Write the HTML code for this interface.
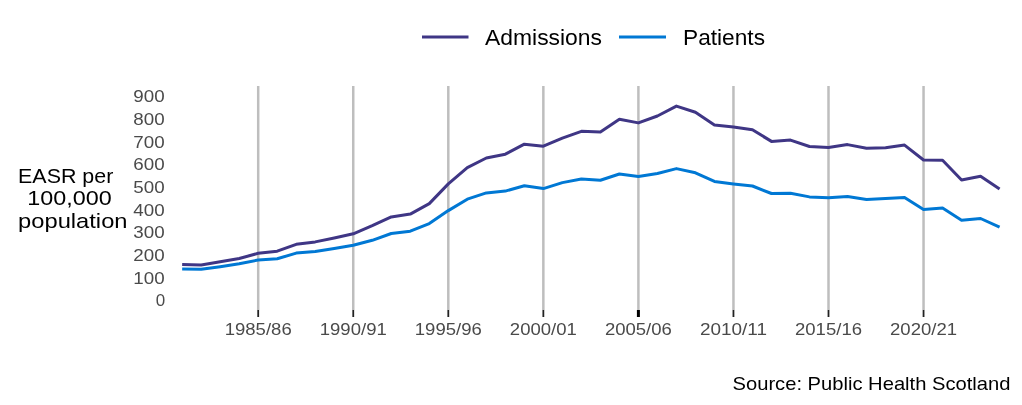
<!DOCTYPE html>
<html><head><meta charset="utf-8"><style>
html,body{margin:0;padding:0;background:#fff;}
svg{display:block;will-change:transform;}
text{font-family:"Liberation Sans",sans-serif;}
.tk{font-size:17px;fill:#4a4a4a;}
.lg{font-size:22px;fill:#000;}
.yl{font-size:21px;fill:#000;}
.src{font-size:18.5px;fill:#000;}
</style></head><body>
<svg width="1022" height="405" viewBox="0 0 1022 405">
<rect width="1022" height="405" fill="#fff"/>
<line x1="258.20" y1="86" x2="258.20" y2="310" stroke="#bebebe" stroke-width="2.5"/>
<line x1="353.25" y1="86" x2="353.25" y2="310" stroke="#bebebe" stroke-width="2.5"/>
<line x1="448.30" y1="86" x2="448.30" y2="310" stroke="#bebebe" stroke-width="2.5"/>
<line x1="543.35" y1="86" x2="543.35" y2="310" stroke="#bebebe" stroke-width="2.5"/>
<line x1="638.40" y1="86" x2="638.40" y2="310" stroke="#bebebe" stroke-width="2.5"/>
<line x1="733.45" y1="86" x2="733.45" y2="310" stroke="#bebebe" stroke-width="2.5"/>
<line x1="828.50" y1="86" x2="828.50" y2="310" stroke="#bebebe" stroke-width="2.5"/>
<line x1="923.55" y1="86" x2="923.55" y2="310" stroke="#bebebe" stroke-width="2.5"/>
<line x1="258.20" y1="310" x2="258.20" y2="317" stroke="#222" stroke-width="1.8"/>
<line x1="353.25" y1="310" x2="353.25" y2="317" stroke="#222" stroke-width="1.8"/>
<line x1="448.30" y1="310" x2="448.30" y2="317" stroke="#222" stroke-width="1.8"/>
<line x1="543.35" y1="310" x2="543.35" y2="317" stroke="#222" stroke-width="1.8"/>
<line x1="638.40" y1="310" x2="638.40" y2="317" stroke="#000" stroke-width="3"/>
<line x1="733.45" y1="310" x2="733.45" y2="317" stroke="#222" stroke-width="1.8"/>
<line x1="828.50" y1="310" x2="828.50" y2="317" stroke="#222" stroke-width="1.8"/>
<line x1="923.55" y1="310" x2="923.55" y2="317" stroke="#222" stroke-width="1.8"/>

<polyline points="182.16,268.90 201.17,269.30 220.18,266.70 239.19,263.70 258.20,260.00 277.21,258.80 296.22,253.10 315.23,251.50 334.24,248.40 353.25,245.20 372.26,240.30 391.27,233.50 410.28,231.20 429.29,223.60 448.30,210.60 467.31,199.20 486.32,192.90 505.33,191.10 524.34,185.70 543.35,188.60 562.36,182.60 581.37,179.00 600.38,180.20 619.39,174.00 638.40,176.50 657.41,173.50 676.42,168.60 695.43,172.80 714.44,181.40 733.45,183.90 752.46,186.00 771.47,193.50 790.48,193.20 809.49,196.90 828.50,197.70 847.51,196.40 866.52,199.40 885.53,198.40 904.54,197.40 923.55,209.40 942.56,208.10 961.57,220.20 980.58,218.50 999.59,227.10" fill="none" stroke="#0078d4" stroke-width="3" stroke-linejoin="round" stroke-linecap="butt"/>
<polyline points="182.16,264.40 201.17,264.90 220.18,261.80 239.19,258.50 258.20,253.30 277.21,251.20 296.22,244.30 315.23,241.90 334.24,238.00 353.25,233.80 372.26,225.70 391.27,216.90 410.28,214.10 429.29,203.60 448.30,183.90 467.31,167.70 486.32,158.00 505.33,154.20 524.34,144.20 543.35,146.20 562.36,138.20 581.37,131.30 600.38,132.00 619.39,119.20 638.40,122.90 657.41,116.00 676.42,106.10 695.43,112.30 714.44,125.10 733.45,127.10 752.46,129.80 771.47,141.40 790.48,140.10 809.49,146.50 828.50,147.50 847.51,144.60 866.52,148.30 885.53,147.80 904.54,145.10 923.55,160.00 942.56,160.20 961.57,180.00 980.58,176.30 999.59,188.90" fill="none" stroke="#3f3685" stroke-width="3" stroke-linejoin="round" stroke-linecap="butt"/>
<text x="258.20" y="335.3" text-anchor="middle" textLength="67" lengthAdjust="spacingAndGlyphs" class="tk">1985/86</text>
<text x="353.25" y="335.3" text-anchor="middle" textLength="67" lengthAdjust="spacingAndGlyphs" class="tk">1990/91</text>
<text x="448.30" y="335.3" text-anchor="middle" textLength="67" lengthAdjust="spacingAndGlyphs" class="tk">1995/96</text>
<text x="543.35" y="335.3" text-anchor="middle" textLength="67" lengthAdjust="spacingAndGlyphs" class="tk">2000/01</text>
<text x="638.40" y="335.3" text-anchor="middle" textLength="67" lengthAdjust="spacingAndGlyphs" class="tk">2005/06</text>
<text x="733.45" y="335.3" text-anchor="middle" textLength="67" lengthAdjust="spacingAndGlyphs" class="tk">2010/11</text>
<text x="828.50" y="335.3" text-anchor="middle" textLength="67" lengthAdjust="spacingAndGlyphs" class="tk">2015/16</text>
<text x="923.55" y="335.3" text-anchor="middle" textLength="67" lengthAdjust="spacingAndGlyphs" class="tk">2020/21</text>
<text x="155.75" y="306.30" textLength="9.45" lengthAdjust="spacingAndGlyphs" class="tk">0</text>
<text x="133.30" y="283.62" textLength="31.3" lengthAdjust="spacingAndGlyphs" class="tk">100</text>
<text x="133.30" y="260.94" textLength="31.3" lengthAdjust="spacingAndGlyphs" class="tk">200</text>
<text x="133.30" y="238.26" textLength="31.3" lengthAdjust="spacingAndGlyphs" class="tk">300</text>
<text x="133.30" y="215.58" textLength="31.3" lengthAdjust="spacingAndGlyphs" class="tk">400</text>
<text x="133.30" y="192.90" textLength="31.3" lengthAdjust="spacingAndGlyphs" class="tk">500</text>
<text x="133.30" y="170.22" textLength="31.3" lengthAdjust="spacingAndGlyphs" class="tk">600</text>
<text x="133.30" y="147.54" textLength="31.3" lengthAdjust="spacingAndGlyphs" class="tk">700</text>
<text x="133.30" y="124.86" textLength="31.3" lengthAdjust="spacingAndGlyphs" class="tk">800</text>
<text x="133.30" y="102.18" textLength="31.3" lengthAdjust="spacingAndGlyphs" class="tk">900</text>

<line x1="422" y1="37" x2="468.5" y2="37" stroke="#3f3685" stroke-width="3"/>
<text x="485" y="44.6" class="lg" textLength="117" lengthAdjust="spacingAndGlyphs">Admissions</text>
<line x1="619" y1="37" x2="666" y2="37" stroke="#0078d4" stroke-width="3"/>
<text x="683" y="44.6" class="lg" textLength="82" lengthAdjust="spacingAndGlyphs">Patients</text>
<text x="65.7" y="183.2" text-anchor="middle" textLength="95.2" lengthAdjust="spacingAndGlyphs" class="yl">EASR per</text>
<text x="69.5" y="205.3" text-anchor="middle" textLength="84.4" lengthAdjust="spacingAndGlyphs" class="yl">100,000</text>
<text x="72.8" y="227.9" text-anchor="middle" textLength="109.4" lengthAdjust="spacingAndGlyphs" class="yl">population</text>
<text x="732.5" y="389.7" textLength="278" lengthAdjust="spacingAndGlyphs" class="src">Source: Public Health Scotland</text>
</svg>
</body></html>
